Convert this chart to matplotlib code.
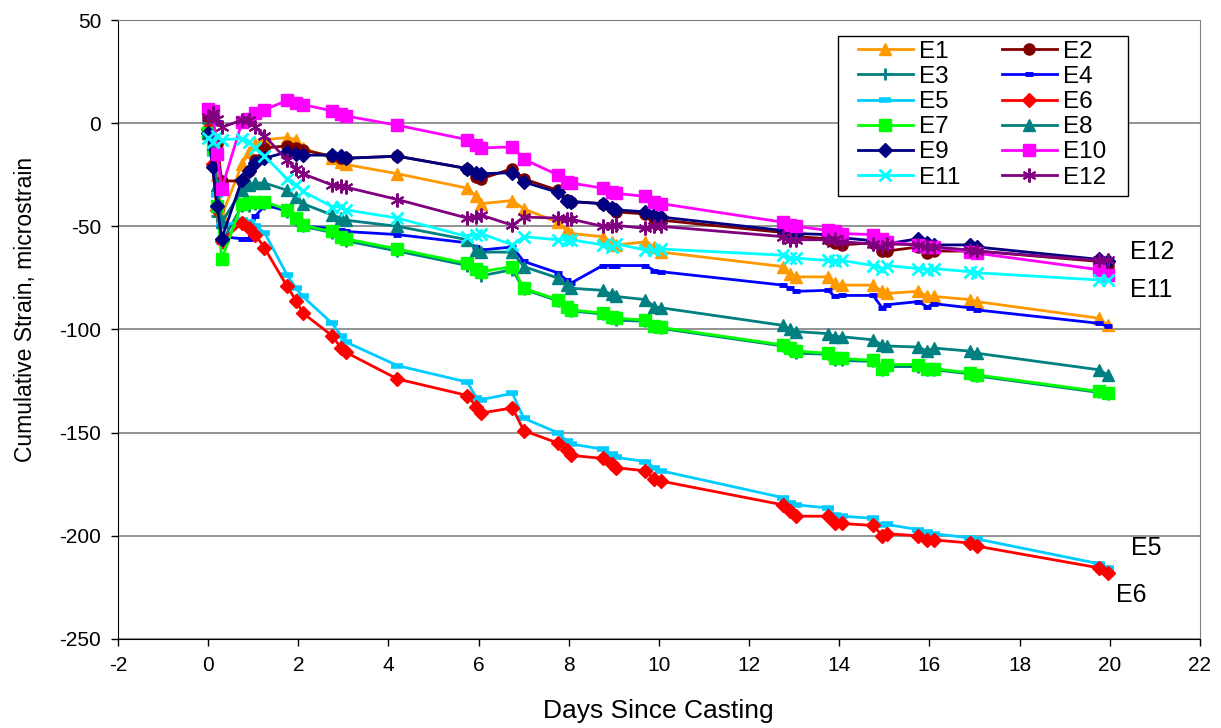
import numpy as np
import matplotlib
matplotlib.use('Agg')
import matplotlib.pyplot as plt
from matplotlib.patches import Rectangle

plt.rcParams['font.family'] = ['Liberation Sans', 'DejaVu Sans']
plt.rcParams['axes.unicode_minus'] = False

# gauge readings, days after casting
days = [0.0, 0.1, 0.2, 0.3, 0.75, 0.9, 1.05, 1.25, 1.75, 1.95, 2.1, 2.75, 2.95, 3.05,
        4.2, 5.75, 5.95, 6.05, 6.75, 7.0, 7.75, 7.95, 8.05, 8.75, 8.95, 9.05, 9.7, 9.9,
        10.05, 12.75, 12.9, 13.05, 13.75, 13.9, 14.05, 14.75, 14.95, 15.05, 15.75, 15.95,
        16.1, 16.9, 17.05, 19.75, 19.95]

E1 = [0, -8, -25, -45, -20, -14, -10, -8, -7, -8, -12, -17, -19, -20, -24.5, -31.5, -35.5,
      -39, -37.5, -41.5, -48, -52, -53.5, -55, -57.5, -59, -57.5, -60, -62.5, -69.5, -73,
      -74.5, -74.5, -77.5, -78.5, -78.5, -81.5, -82.5, -81.5, -84, -84, -85.5, -86.5, -94.5, -98]
E2 = [3, 2, -10, -28, -28, -23, -18, -12, -11, -12, -13, -16, -17, -17, -16, -22, -26, -27,
      -22, -27, -32.5, -37, -38, -39, -41, -43, -44, -46, -47, -53, -55, -55, -56, -58, -59,
      -58, -62, -62, -60, -63, -62, -62, -62, -67, -69]
E3 = [0, -10, -45, -58, -40, -40, -39, -39, -43, -47, -50, -53, -56, -57, -62, -69, -72, -74,
      -71, -80.5, -86, -89.5, -91, -92.5, -94.5, -95.5, -96, -99, -99.5, -108, -110, -111.5,
      -112, -115, -115, -115.5, -119.5, -118, -118, -119.5, -119.5, -121.5, -122.5, -130.5, -131.5]
E4 = [-5, -20, -40, -55, -56, -56, -45, -40, -42, -46, -50, -51, -52, -52.5, -54, -58, -60,
      -61.5, -60, -67, -72.5, -76, -77.5, -69, -69, -69, -69, -71.5, -72, -78.5, -80, -81.5,
      -81, -84, -83.5, -83.5, -89.5, -88, -86.5, -89, -87.5, -89.5, -90.5, -97, -98.5]
E5 = [-5, -15, -35, -50, -47, -48, -50, -53, -73.5, -80, -84, -97, -103, -106, -117.5, -125.5,
      -133, -134, -131, -143, -150, -154, -155.5, -158, -160.5, -162, -164, -167, -168.5,
      -181.5, -184, -185, -186.5, -190, -190.5, -191.5, -195, -194.5, -197, -198, -199, -201,
      -201.5, -213.5, -215.5]
E6 = [-3, -20, -42, -57, -48.5, -51, -54, -60.5, -79, -86, -92, -103, -109, -111, -124, -132,
      -137.5, -140.5, -138, -149, -155, -158.5, -161, -162.5, -165, -167, -168.5, -172.5,
      -173.5, -185, -188, -190.5, -190.5, -194, -194, -195, -200, -199, -200, -202, -202,
      -203.5, -205, -215.5, -218]
E7 = [-5, -12, -40, -66, -39, -38, -38, -38, -42, -46, -49.5, -52.5, -55, -56, -61, -68, -70.5,
      -72, -69.5, -80, -85.5, -89, -90.5, -92, -94, -94.5, -95.5, -98.5, -99, -107.5, -109,
      -110.5, -111.5, -114, -114, -115, -119, -117, -117, -119, -119, -121, -122, -130, -131]
E8 = [-5, -10, -30, -48, -32.5, -30, -29, -29, -32.5, -36, -39, -44.5, -46, -47, -50, -56.5,
      -61.5, -62.5, -62.5, -69.5, -75, -78.5, -80, -81, -83, -84, -85.5, -89, -89.5, -98, -100,
      -101, -102, -103.5, -103.5, -105, -107.5, -108, -108.5, -110.5, -109, -110.5, -111.5,
      -119.5, -122]
E9 = [-5, -21, -40, -56, -27.5, -23, -19.5, -17, -14, -15, -15.5, -15.5, -16, -17, -16, -22,
      -24, -24.5, -24, -28.5, -33.5, -37.5, -38, -39, -41, -42, -43, -44.5, -45.5, -52, -53,
      -53.5, -54, -55, -55.5, -57, -58, -58.5, -56, -58, -59, -59, -60, -66, -67]
E10 = [7, 6, -15, -32, 0.5, 2, 5, 6.5, 11, 10, 9, 6, 4.5, 3.5, -1, -8, -10.5, -12, -11.5,
       -17.5, -25, -28.5, -29, -31.5, -33.5, -34, -35.5, -38, -39, -48, -49.5, -50, -52, -52.5,
       -53.5, -54, -56, -57.5, -59, -60, -60, -62.5, -63, -71, -73.5]
E11 = [-7, -9, -6, -8, -7.5, -9, -12, -16, -27, -30, -33, -40.5, -40.5, -42, -46, -55, -54,
       -53.5, -59, -55, -56.5, -56.5, -56.5, -59, -60, -58.5, -61.5, -61.5, -61, -64, -65.5,
       -65.5, -66.5, -67, -66.5, -69, -70.5, -69, -70.5, -71, -70.5, -72, -72.5, -76, -76]
E12 = [3, 5, 2, -2, 1.5, 1.5, -2, -6, -18, -22, -24.5, -30, -30.5, -31, -37, -46, -45.5,
       -44.5, -49.5, -45.5, -46, -46.5, -46.5, -50, -50, -49.5, -51, -50, -50, -55, -56.5,
       -56.5, -56.5, -56, -57.5, -58.5, -60, -58.5, -59, -60, -60, -61.5, -62, -66.5, -66.5]

names = ['E1', 'E2', 'E3', 'E4', 'E5', 'E6', 'E7', 'E8', 'E9', 'E10', 'E11', 'E12']
series = [E1, E2, E3, E4, E5, E6, E7, E8, E9, E10, E11, E12]

colors = ['#FF9900', '#800000', '#008080', '#0000FF', '#00CCFF', '#FF0000',
          '#00FF00', '#008080', '#000080', '#FF00FF', '#00FFFF', '#800080']
styles = [
    dict(marker='^', ms=8),
    dict(marker='o', ms=8),
    dict(marker='+', ms=9, mew=2),
    dict(marker='_', ms=6, mew=3.5),
    dict(marker='_', ms=9, mew=4),
    dict(marker='D', ms=7),
    dict(marker='s', ms=8),
    dict(marker='^', ms=8),
    dict(marker='D', ms=7),
    dict(marker='s', ms=8),
    dict(marker='x', ms=8, mew=2),
    dict(marker=(6, 2, 0), ms=10, mew=1.5),
]

fig = plt.figure(figsize=(12.21, 7.28), dpi=100)
ax = fig.add_axes([0.0966, 0.1223, 0.8862, 0.8502])

handles = []
for name, vals, c, st in zip(names, series, colors, styles):
    h, = ax.plot(days, vals, '-', color=c, lw=2, mfc=c, mec=c, label=name, **st)
    handles.append(h)

ax.set_xlim(-2, 22)
ax.set_ylim(-250, 50)
ax.set_xticks(np.arange(-2, 23, 2))
ax.set_yticks(np.arange(-250, 51, 50))
ax.yaxis.grid(True, color='#808080', lw=1.2)
ax.set_axisbelow(True)
ax.tick_params(labelsize=15, length=5, width=1, direction='out', pad=7)
for s in ['top', 'right']:
    ax.spines[s].set_color('#808080')
ax.spines['left'].set_color('black')
ax.spines['bottom'].set_color('black')

ax.set_xlabel('Days Since Casting', fontsize=19)
ax.set_ylabel('Cumulative Strain, microstrain', fontsize=16.5)
ax.xaxis.set_label_coords(0.499, -0.097)
ax.yaxis.set_label_coords(-0.075, 0.532)

# end-of-line labels
ax.text(20.45, -62.5, 'E12', fontsize=18, va='center', clip_on=False)
ax.text(20.45, -81, 'E11', fontsize=18, va='center', clip_on=False)
ax.text(20.47, -206, 'E5', fontsize=18, va='center', clip_on=False)
ax.text(20.47, -228.5, 'E6', fontsize=18, va='center', ha='center', clip_on=False)

# legend box, entries laid out row by row in two columns
ax.add_patch(Rectangle((0.6654, 0.7157), 0.2681, 0.2585, transform=ax.transAxes,
                       facecolor='white', edgecolor='black', lw=1, zorder=4))
order = [0, 2, 4, 6, 8, 10, 1, 3, 5, 7, 9, 11]
leg = ax.legend([handles[i] for i in order], [names[i] for i in order],
                ncol=2, loc='upper left', bbox_to_anchor=(0.6839, 0.9665),
                fontsize=17.5, frameon=False, borderpad=0, labelspacing=0.13,
                handlelength=2.26, handletextpad=0.25, columnspacing=1.7,
                borderaxespad=0)
leg.set_zorder(5)

plt.savefig('out.png', dpi=100)
